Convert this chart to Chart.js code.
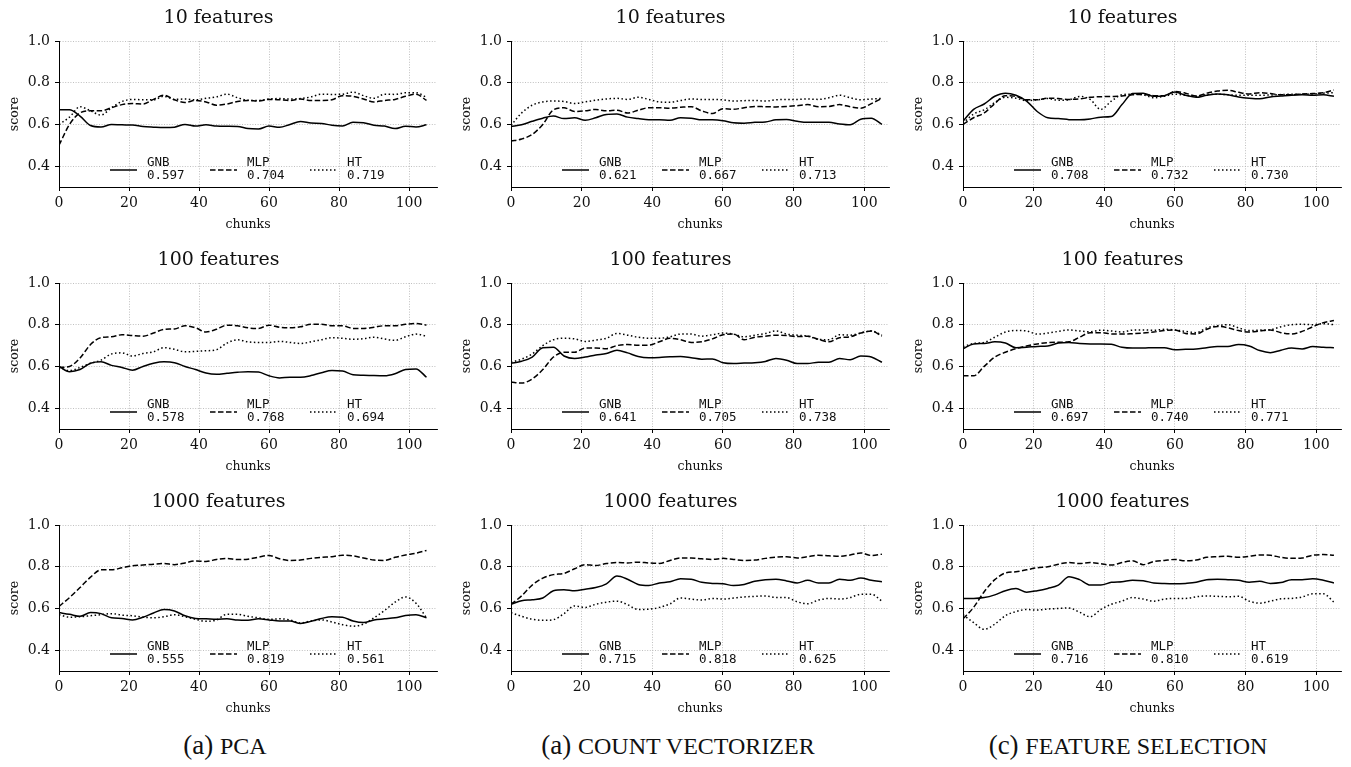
<!DOCTYPE html>
<html>
<head>
<meta charset="utf-8">
<script src="https://cdn.jsdelivr.net/npm/chart.js@4.4.1/dist/chart.umd.min.js"></script>
<style>
body{margin:0;background:#fff;width:1351px;height:767px;overflow:hidden;position:relative}
canvas{position:absolute}
.cap{position:absolute;top:732px;line-height:1;font-family:'Liberation Serif','Times New Roman',serif;font-size:27px;color:#111;white-space:nowrap;transform:translateX(-50%)}
.cap span{font-size:24px}
</style>
</head>
<body>
<div class="cap" style="left:225px">(a) <span>PCA</span></div>
<div class="cap" style="left:678px">(a) <span>COUNT VECTORIZER</span></div>
<div class="cap" style="left:1128px">(c) <span>FEATURE SELECTION</span></div>
<script>
let chunks = [0,3,6,9,12,15,18,21,24,27,30,33,36,39,42,45,48,51,54,57,60,63,66,69,72,75,78,81,84,87,90,93,96,99,102,105]
let modelos = ['GNB', 'MLP', 'HT']
let titulos = ['10 features', '100 features', '1000 features']
let xTicks = [0, 20, 40, 60, 80, 100]
let yTicks = [0.4, 0.6, 0.8, 1.0]
let xMax = [108, 107, 107]

// PCA
let pca10_gnb = [0.670,0.670,0.640,0.595,0.588,0.600,0.598,0.597,0.590,0.587,0.585,0.587,0.600,0.592,0.598,0.592,0.591,0.590,0.580,0.578,0.592,0.586,0.600,0.614,0.607,0.605,0.596,0.593,0.610,0.608,0.596,0.592,0.580,0.591,0.588,0.598]
let pca10_mlp = [0.500,0.600,0.655,0.665,0.665,0.680,0.695,0.700,0.698,0.720,0.740,0.718,0.705,0.715,0.708,0.692,0.698,0.710,0.715,0.712,0.720,0.718,0.715,0.722,0.715,0.715,0.718,0.738,0.735,0.722,0.708,0.715,0.720,0.735,0.745,0.715]
let pca10_ht  = [0.600,0.635,0.685,0.665,0.645,0.680,0.710,0.720,0.718,0.718,0.735,0.720,0.722,0.718,0.725,0.732,0.745,0.728,0.716,0.715,0.722,0.724,0.722,0.724,0.732,0.745,0.744,0.745,0.755,0.738,0.725,0.745,0.744,0.752,0.752,0.730]
let pca10_medias = ['0.597', '0.704', '0.719']

let pca100_gnb = [0.600,0.575,0.585,0.615,0.622,0.605,0.595,0.582,0.600,0.615,0.622,0.618,0.600,0.585,0.568,0.562,0.567,0.572,0.575,0.573,0.555,0.545,0.548,0.548,0.556,0.570,0.580,0.578,0.560,0.558,0.556,0.555,0.565,0.585,0.588,0.548]
let pca100_mlp = [0.595,0.600,0.640,0.705,0.738,0.742,0.752,0.748,0.745,0.760,0.778,0.780,0.795,0.785,0.765,0.778,0.798,0.795,0.785,0.782,0.798,0.788,0.785,0.790,0.802,0.802,0.795,0.795,0.782,0.782,0.788,0.795,0.795,0.802,0.806,0.798]
let pca100_ht  = [0.595,0.580,0.595,0.615,0.630,0.660,0.665,0.650,0.662,0.670,0.690,0.682,0.670,0.672,0.675,0.680,0.712,0.728,0.718,0.715,0.715,0.720,0.715,0.710,0.718,0.728,0.738,0.735,0.730,0.733,0.740,0.732,0.725,0.742,0.755,0.745]
let pca100_medias = ['0.578', '0.768', '0.694']

let pca1000_gnb = [0.580,0.572,0.562,0.580,0.575,0.555,0.552,0.545,0.558,0.578,0.595,0.588,0.565,0.552,0.550,0.548,0.550,0.544,0.543,0.550,0.545,0.540,0.540,0.528,0.538,0.552,0.560,0.558,0.540,0.532,0.545,0.550,0.555,0.566,0.570,0.555]
let pca1000_mlp = [0.610,0.652,0.700,0.750,0.785,0.785,0.795,0.805,0.808,0.812,0.815,0.810,0.818,0.828,0.825,0.835,0.840,0.834,0.836,0.846,0.854,0.838,0.830,0.832,0.840,0.845,0.848,0.855,0.852,0.842,0.832,0.830,0.845,0.856,0.865,0.878]
let pca1000_ht  = [0.570,0.558,0.560,0.565,0.570,0.575,0.568,0.565,0.558,0.555,0.560,0.570,0.560,0.548,0.538,0.545,0.572,0.572,0.562,0.555,0.548,0.550,0.545,0.530,0.540,0.545,0.535,0.522,0.515,0.525,0.555,0.590,0.630,0.655,0.625,0.555]
let pca1000_medias = ['0.555', '0.819', '0.561']

// Count vectorizer
let cv10_gnb = [0.590,0.598,0.615,0.630,0.640,0.628,0.632,0.620,0.632,0.648,0.650,0.635,0.628,0.622,0.622,0.620,0.632,0.630,0.622,0.622,0.618,0.608,0.606,0.610,0.612,0.622,0.624,0.615,0.610,0.610,0.610,0.602,0.598,0.625,0.630,0.600]
let cv10_mlp = [0.520,0.530,0.552,0.600,0.670,0.680,0.662,0.665,0.672,0.665,0.668,0.655,0.668,0.680,0.680,0.678,0.682,0.685,0.665,0.652,0.675,0.673,0.680,0.686,0.685,0.684,0.686,0.690,0.695,0.685,0.686,0.695,0.685,0.678,0.700,0.725]
let cv10_ht  = [0.595,0.655,0.692,0.708,0.712,0.710,0.700,0.708,0.716,0.722,0.725,0.720,0.730,0.720,0.708,0.706,0.715,0.722,0.720,0.720,0.718,0.712,0.714,0.715,0.712,0.718,0.720,0.720,0.722,0.720,0.728,0.740,0.728,0.718,0.722,0.725]
let cv10_medias = ['0.621', '0.667', '0.713']

let cv100_gnb = [0.615,0.625,0.645,0.690,0.692,0.650,0.638,0.645,0.655,0.662,0.678,0.665,0.648,0.642,0.643,0.646,0.648,0.642,0.635,0.636,0.618,0.614,0.616,0.618,0.624,0.638,0.630,0.614,0.614,0.620,0.620,0.638,0.632,0.650,0.645,0.620]
let cv100_mlp = [0.525,0.520,0.540,0.585,0.645,0.668,0.668,0.688,0.688,0.685,0.700,0.705,0.702,0.702,0.718,0.735,0.728,0.715,0.718,0.732,0.752,0.755,0.728,0.740,0.745,0.750,0.748,0.743,0.745,0.730,0.718,0.738,0.742,0.760,0.770,0.745]
let cv100_ht  = [0.620,0.635,0.660,0.700,0.728,0.735,0.732,0.720,0.726,0.735,0.758,0.750,0.740,0.735,0.735,0.742,0.755,0.755,0.745,0.752,0.760,0.755,0.742,0.750,0.758,0.770,0.755,0.750,0.745,0.730,0.728,0.752,0.750,0.760,0.770,0.750]
let cv100_medias = ['0.641', '0.705', '0.738']

let cv1000_gnb = [0.620,0.637,0.642,0.650,0.685,0.690,0.685,0.692,0.700,0.718,0.755,0.740,0.715,0.710,0.722,0.728,0.742,0.740,0.725,0.720,0.718,0.710,0.715,0.730,0.738,0.740,0.732,0.722,0.735,0.722,0.722,0.740,0.735,0.746,0.735,0.728]
let cv1000_mlp = [0.620,0.660,0.712,0.745,0.762,0.768,0.790,0.810,0.806,0.815,0.820,0.818,0.822,0.818,0.816,0.830,0.842,0.842,0.838,0.835,0.840,0.835,0.830,0.832,0.840,0.846,0.848,0.842,0.848,0.855,0.852,0.850,0.856,0.866,0.854,0.860]
let cv1000_ht  = [0.580,0.562,0.548,0.543,0.546,0.575,0.612,0.605,0.620,0.630,0.635,0.618,0.595,0.596,0.605,0.622,0.650,0.645,0.640,0.648,0.645,0.650,0.655,0.658,0.660,0.653,0.652,0.632,0.622,0.640,0.648,0.645,0.652,0.668,0.668,0.635]
let cv1000_medias = ['0.715', '0.818', '0.625']

// Feature selection
let fs10_gnb = [0.615,0.672,0.698,0.735,0.750,0.740,0.712,0.662,0.632,0.628,0.623,0.622,0.626,0.635,0.638,0.695,0.748,0.750,0.735,0.738,0.755,0.740,0.730,0.740,0.746,0.742,0.732,0.726,0.723,0.732,0.736,0.740,0.742,0.740,0.742,0.735]
let fs10_mlp = [0.600,0.632,0.655,0.700,0.738,0.735,0.718,0.718,0.726,0.724,0.720,0.722,0.730,0.733,0.734,0.736,0.742,0.744,0.738,0.738,0.758,0.750,0.736,0.750,0.760,0.764,0.754,0.746,0.752,0.748,0.742,0.742,0.746,0.748,0.752,0.765]
let fs10_ht  = [0.605,0.650,0.670,0.705,0.730,0.726,0.714,0.718,0.724,0.716,0.718,0.734,0.720,0.672,0.712,0.742,0.745,0.742,0.728,0.735,0.745,0.740,0.735,0.744,0.745,0.742,0.740,0.740,0.740,0.741,0.743,0.745,0.745,0.746,0.750,0.752]
let fs10_medias = ['0.708', '0.732', '0.730']

let fs100_gnb = [0.685,0.708,0.710,0.718,0.712,0.690,0.692,0.696,0.698,0.712,0.715,0.710,0.708,0.708,0.706,0.692,0.688,0.688,0.690,0.690,0.680,0.682,0.684,0.690,0.695,0.696,0.705,0.698,0.676,0.666,0.678,0.688,0.684,0.695,0.692,0.690]
let fs100_mlp = [0.555,0.555,0.600,0.645,0.668,0.685,0.698,0.708,0.714,0.716,0.718,0.740,0.762,0.762,0.756,0.755,0.757,0.760,0.765,0.772,0.775,0.758,0.756,0.778,0.792,0.785,0.772,0.765,0.770,0.775,0.762,0.756,0.768,0.790,0.810,0.820]
let fs100_ht  = [0.695,0.710,0.715,0.740,0.765,0.772,0.770,0.755,0.760,0.768,0.775,0.770,0.766,0.774,0.770,0.765,0.774,0.775,0.773,0.778,0.775,0.768,0.762,0.785,0.795,0.800,0.785,0.772,0.774,0.776,0.790,0.800,0.802,0.800,0.805,0.800]
let fs100_medias = ['0.697', '0.740', '0.771']

let fs1000_gnb = [0.648,0.648,0.652,0.665,0.685,0.695,0.678,0.685,0.696,0.712,0.752,0.738,0.712,0.712,0.725,0.728,0.735,0.733,0.722,0.719,0.718,0.720,0.725,0.738,0.740,0.738,0.735,0.726,0.730,0.720,0.724,0.738,0.738,0.742,0.735,0.722]
let fs1000_mlp = [0.550,0.605,0.680,0.738,0.770,0.776,0.785,0.795,0.800,0.812,0.820,0.815,0.820,0.814,0.808,0.820,0.828,0.810,0.825,0.830,0.835,0.828,0.832,0.845,0.848,0.850,0.845,0.850,0.856,0.855,0.845,0.840,0.842,0.855,0.858,0.855]
let fs1000_ht  = [0.570,0.532,0.500,0.525,0.565,0.585,0.595,0.592,0.597,0.600,0.602,0.582,0.560,0.595,0.620,0.635,0.652,0.645,0.635,0.645,0.648,0.648,0.656,0.660,0.658,0.656,0.658,0.635,0.625,0.635,0.646,0.648,0.655,0.670,0.670,0.630]
let fs1000_medias = ['0.716', '0.810', '0.619']

// columnas: PCA, count vectorizer, feature selection; filas: 10, 100, 1000
let paneles = [
    [[pca10_gnb, pca10_mlp, pca10_ht, pca10_medias], [pca100_gnb, pca100_mlp, pca100_ht, pca100_medias], [pca1000_gnb, pca1000_mlp, pca1000_ht, pca1000_medias]],
    [[cv10_gnb, cv10_mlp, cv10_ht, cv10_medias], [cv100_gnb, cv100_mlp, cv100_ht, cv100_medias], [cv1000_gnb, cv1000_mlp, cv1000_ht, cv1000_medias]],
    [[fs10_gnb, fs10_mlp, fs10_ht, fs10_medias], [fs100_gnb, fs100_mlp, fs100_ht, fs100_medias], [fs1000_gnb, fs1000_mlp, fs1000_ht, fs1000_medias]]
]

let estilos = [[], [5.5, 2.5], [1.5, 2.5]]
let colLeft = [0, 452, 904]
let rowTop = [0, 242, 484]

// leyenda dentro del area, abajo al centro, con la media debajo del nombre
let leyendaPropia = {
    id: 'leyendaPropia',
    afterDatasetsDraw(chart) {
        let ctx = chart.ctx
        let a = chart.chartArea
        let cx = (a.left + a.right) / 2
        ctx.save()
        chart.data.datasets.forEach((ds, i) => {
            let x0 = cx - 138 + 100 * i
            ctx.strokeStyle = '#000'
            ctx.lineWidth = ds.borderWidth
            ctx.setLineDash(ds.borderDash)
            ctx.beginPath()
            ctx.moveTo(x0, a.bottom - 17)
            ctx.lineTo(x0 + 27, a.bottom - 17)
            ctx.stroke()
            ctx.setLineDash([])
            ctx.fillStyle = '#111'
            ctx.font = '12.5px "DejaVu Sans Mono"'
            ctx.textBaseline = 'middle'
            ctx.fillText(ds.label, x0 + 37, a.bottom - 24)
            ctx.fillText(ds.media, x0 + 37, a.bottom - 11)
        })
        ctx.restore()
    }
}

let fuente = "'DejaVu Serif', serif"
Chart.defaults.font.family = fuente
Chart.defaults.font.size = 14
Chart.defaults.color = '#111'

let dibujarPanel = (col, fila) => {
    let [gnb, mlp, ht, medias] = paneles[col][fila]
    let canvas = document.createElement('canvas')
    canvas.width = 447
    canvas.height = 236
    canvas.style.left = colLeft[col] + 'px'
    canvas.style.top = rowTop[fila] + 'px'
    document.body.appendChild(canvas)

    let series = [gnb, mlp, ht].map((vals, i) => ({
        label: modelos[i],
        media: medias[i],
        data: vals.map((v, k) => ({x: chunks[k], y: v})),
        borderColor: '#000',
        borderWidth: 1.5,
        borderDash: estilos[i],
        pointRadius: 0,
        fill: false,
        cubicInterpolationMode: 'monotone'
    }))

    let rejilla = {
        color: '#b0b0b0',
        lineWidth: 0.8,
        tickLength: 4,
        tickColor: '#000',
        tickWidth: 1,
        tickBorderDash: []
    }
    // en v4 el trazo de la rejilla va en border.dash
    let borde = {display: true, color: '#000', width: 1, dash: [1, 1.6]}
    let letraTicks = {family: fuente, size: 14}

    new Chart(canvas.getContext('2d'), {
        type: 'line',
        data: {datasets: series},
        options: {
            responsive: false,
            animation: false,
            layout: {padding: {left: 0, right: 10, top: 0, bottom: 0}},
            plugins: {
                legend: {display: false},
                tooltip: {enabled: false},
                title: {
                    display: true,
                    text: titulos[fila],
                    color: '#111',
                    font: {family: fuente, size: 19, weight: 'normal', lineHeight: 1.2},
                    padding: {top: 6.5, bottom: 11.7}
                }
            },
            scales: {
                x: {
                    type: 'linear',
                    min: 0,
                    max: xMax[col],
                    afterBuildTicks: s => { s.ticks = xTicks.map(v => ({value: v})) },
                    afterFit: s => { s.height = 49 },
                    ticks: {color: '#111', padding: 4, maxRotation: 0, font: letraTicks, callback: v => v},
                    grid: rejilla,
                    border: borde,
                    title: {display: true, text: 'chunks', color: '#111', font: {family: fuente, size: 12.5}, padding: {top: 4, bottom: 4}}
                },
                y: {
                    min: 0.3,
                    max: 1.0,
                    afterBuildTicks: s => { s.ticks = yTicks.map(v => ({value: v})) },
                    afterFit: s => { s.width = 59 },
                    ticks: {color: '#111', padding: 5, font: letraTicks, callback: v => v.toFixed(1)},
                    grid: rejilla,
                    border: borde,
                    title: {display: true, text: 'score', color: '#111', font: {family: fuente, size: 12.5}, padding: {top: 7, bottom: 4}}
                }
            }
        },
        plugins: [leyendaPropia]
    })
}

for (let c = 0; c < 3; c++) {
    for (let f = 0; f < 3; f++) {
        dibujarPanel(c, f)
    }
}
</script>
</body>
</html>
